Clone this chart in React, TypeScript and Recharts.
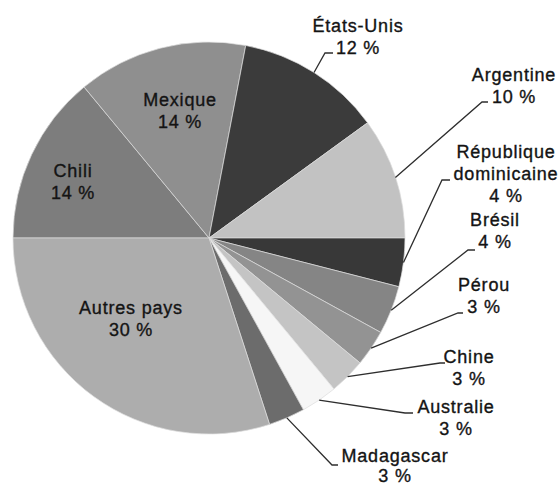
import React from 'react';
import { PieChart, Pie, Cell } from 'recharts';

// parts des pays, dans le sens horaire depuis la gauche
const countries = [
  'Chili',
  'Mexique',
  'États-Unis',
  'Argentine',
  'République\ndominicaine',
  'Brésil',
  'Pérou',
  'Chine',
  'Australie',
  'Madagascar',
  'Autres pays',
];
const shares = [14, 14, 12, 10, 4, 4, 3, 3, 3, 3, 30];
const colors = [
  '#7d7d7d', '#8f8f8f', '#3b3b3b', '#c2c2c2', '#383838', '#858585',
  '#939393', '#c4c4c4', '#f6f6f6', '#6c6c6c', '#adadad',
];

const data = countries.map((name, i) => ({ name, value: shares[i] }));

// placement des étiquettes, relatif au centre du camembert
type Place = { tx: number; ty: number; lh?: number; elbow?: [number, number]; end?: [number, number] };
const places: Record<string, Place> = {
  'Chili': { tx: -136, ty: -67 },
  'Mexique': { tx: -29, ty: -138 },
  'États-Unis': { tx: 149, ty: -212, elbow: [116, -185], end: [124, -185] },
  'Argentine': { tx: 305, ty: -163, elbow: [273, -136], end: [279, -136] },
  'République\ndominicaine': { tx: 297, ty: -86, elbow: [233, -58], end: [241, -58] },
  'Brésil': { tx: 286, ty: -18, elbow: [259, 12], end: [266, 12] },
  'Pérou': { tx: 275, ty: 47, elbow: [249, 75], end: [254, 75] },
  'Chine': { tx: 260, ty: 119, elbow: [231, 125], end: [236, 125] },
  'Australie': { tx: 247, ty: 169, elbow: [196, 175], end: [204, 175] },
  'Madagascar': { tx: 186, ty: 218, lh: 20, elbow: [123, 227], end: [129, 227] },
  'Autres pays': { tx: -78, ty: 70 },
};

const RADIAN = Math.PI / 180;
const LINE_H = 22;

const renderLabel = (props: any) => {
  const { cx, cy, midAngle, outerRadius, index } = props;
  const name = countries[index];
  const p = places[name];
  const lh = p.lh ?? LINE_H;
  const lines = [...name.split('\n'), `${shares[index]} %`];
  let leader = null;
  if (p.elbow && p.end) {
    const sx = cx + outerRadius * Math.cos(-midAngle * RADIAN);
    const sy = cy + outerRadius * Math.sin(-midAngle * RADIAN);
    leader = (
      <polyline
        points={`${sx},${sy} ${cx + p.elbow[0]},${cy + p.elbow[1]} ${cx + p.end[0]},${cy + p.end[1]}`}
        fill="none"
        stroke="#2e2e2e"
        strokeWidth={1.3}
      />
    );
  }
  return (
    <g key={`lbl-${index}`}>
      {leader}
      {lines.map((t, i) => (
        <text
          key={i}
          x={cx + p.tx}
          y={cy + p.ty + i * lh}
          textAnchor="middle"
          dominantBaseline="central"
          fill="#141414"
          stroke="#141414"
          strokeWidth={0.35}
          fontSize={18}
          letterSpacing={0.8}
          fontFamily="'Liberation Sans', Arial, sans-serif"
        >
          {t}
        </text>
      ))}
    </g>
  );
};

export default function App() {
  return (
    <div style={{ position: 'absolute', left: 0, top: 0, width: 559, height: 488, background: '#fff' }}>
      <PieChart width={559} height={488} margin={{ top: 0, right: 0, bottom: 0, left: 0 }}>
        <Pie
          data={data}
          dataKey="value"
          nameKey="name"
          cx={209}
          cy={238}
          outerRadius={196}
          startAngle={180}
          endAngle={-180}
          stroke="#dcdcdc"
          strokeWidth={0.7}
          label={renderLabel}
          labelLine={false}
          isAnimationActive={false}
        >
          {data.map((entry, i) => (
            <Cell key={`cell-${i}`} fill={colors[i]} />
          ))}
        </Pie>
      </PieChart>
    </div>
  );
}
